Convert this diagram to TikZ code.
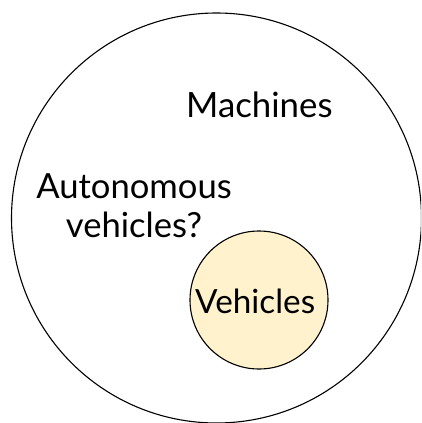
\documentclass[tikz,border=0pt]{standalone}
\usepackage{fontspec}
\setmainfont{Lato}
\definecolor{vehfill}{HTML}{FFF2CC}
\tikzset{
  setcircle/.style={circle, draw=black, line width=1.1pt, inner sep=0pt},
  label/.style={inner sep=0pt, text=black}
}
\begin{document}
\begin{tikzpicture}[x=1pt, y=-1pt]
  \useasboundingbox (0,0) rectangle (421,423);
  \clip (0,0) rectangle (421,423);
  % outer set: machines
  \node[setcircle, minimum size=410pt] (machines) at (216.5,218) {};
  % inner set: vehicles
  \node[setcircle, fill=vehfill, minimum size=138pt] (vehicles) at (259,300) {};
  % labels
  \node[label, anchor=base west, font=\fontsize{34.8}{40}\selectfont] (tmach) at (186,117) {Machines};
  \node[label, anchor=base, font=\fontsize{34.6}{39}\selectfont, align=center] (tauto) at (134,237) {Autonomous\\vehicles?};
  \node[label, anchor=base west, font=\fontsize{33.3}{40}\selectfont] (tveh) at (195,313) {Vehicles};
\end{tikzpicture}
\end{document}
